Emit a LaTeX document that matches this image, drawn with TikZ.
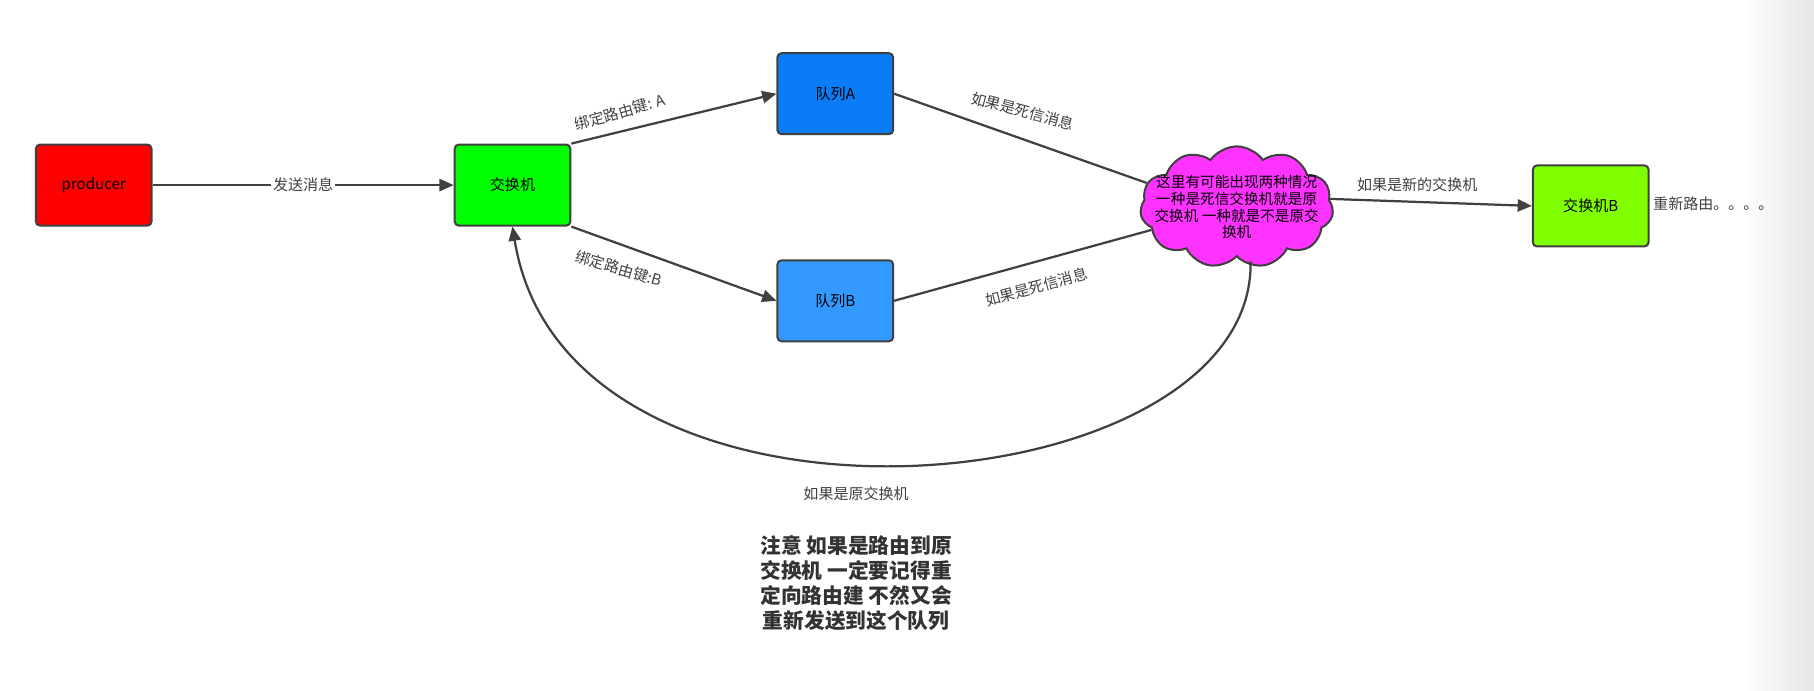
\documentclass[tikz,border=0pt]{standalone}
\usepackage{fontspec}
\setmainfont{Noto Sans CJK SC}
\usetikzlibrary{shapes.symbols,arrows.meta}
\begin{document}
\begin{tikzpicture}[x=0.02cm,y=-0.02cm,
 box/.style={draw=black!75,line width=1pt,rounded corners=2pt,minimum width=2cm,minimum height=1.4cm,font=\fontsize{7.4}{9}\selectfont},
 conn/.style={draw=black!75,line width=1.1pt,-{Triangle[length=7pt,width=6pt]}},
 lbl/.style={font=\fontsize{7.4}{9}\selectfont,text=black!75}]
\useasboundingbox (0,0) rectangle (1568,597);
\shade[left color=white,right color=black!10] (1505,0) rectangle (1568,597);
\node[box,fill=red] (p) at (81,160) {producer};
\node[box,fill=green] (x) at (443,160) {交换机};
\node[box,fill={rgb,255:red,10;green,124;blue,245}] (qa) at (722,81) {队列A};
\node[box,fill={rgb,255:red,51;green,153;blue,255}] (qb) at (722,260) {队列B};
\node[box,fill={rgb,255:red,128;green,255;blue,0}] (xb) at (1375,178) {交换机B};
\node[cloud,draw=black!75,line width=1pt,fill={rgb,255:red,255;green,51;blue,255},cloud puffs=11,cloud puff arc=110,aspect=1.9,minimum width=2.2cm,minimum height=1.2cm,inner sep=-8pt,align=center,font=\fontsize{7.2}{8.2}\selectfont] (c) at (1069,179) {这里有可能出现两种情况\\一种是死信交换机就是原\\交换机 一种就是不是原交\\换机};
\draw[conn] (p) -- node[lbl,fill=white,inner sep=1pt]{发送消息} (x);
\draw[conn] (x.north east) -- (qa.west);
\draw[conn] (x.south east) -- (qb.west);
\draw[draw=black!75,line width=1.1pt] (qa.east) -- (c.165);
\draw[draw=black!75,line width=1.1pt] (qb.east) -- (c.195);
\draw[conn] (c.5) -- (xb.west);
\coordinate (cb) at (1081,226);
\draw[conn] (cb) .. controls (1085,440) and (490,490) .. (x.south);
\node[lbl,rotate=16] at (536,97) {绑定路由键: A};
\node[lbl,rotate=-16] at (535,232) {绑定路由键:B};
\node[lbl,rotate=-15] at (884,96) {如果是死信消息};
\node[lbl,rotate=15] at (896,248) {如果是死信消息};
\node[lbl] at (1225,160) {如果是新的交换机};
\node[lbl] at (1481,176) {重新路由。。。。};
\node[lbl] at (740,427) {如果是原交换机};
\node[align=center,font=\bfseries\fontsize{10.2}{12.2}\selectfont,text=black!80] at (740,504) {注意 如果是路由到原\\交换机 一定要记得重\\定向路由建 不然又会\\重新发送到这个队列};
\end{tikzpicture}
\end{document}
